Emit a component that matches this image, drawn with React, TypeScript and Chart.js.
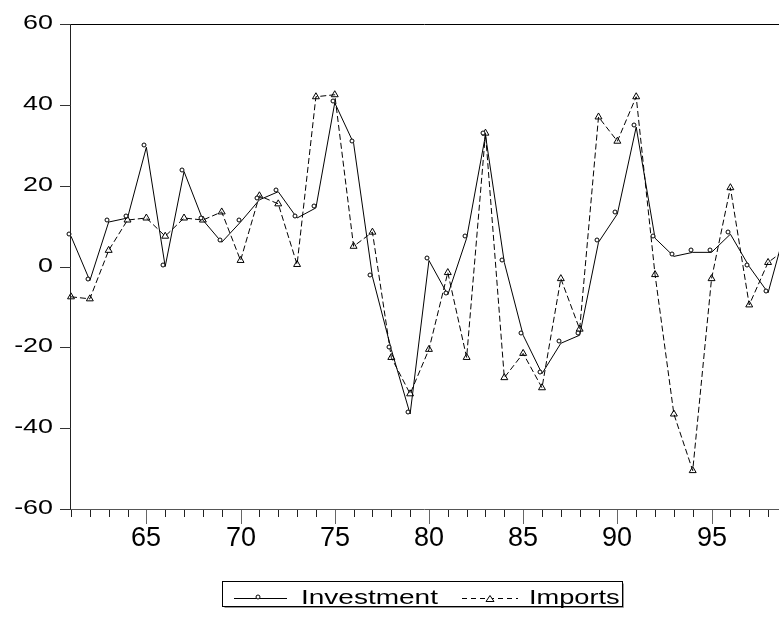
import React, { useEffect, useRef } from 'react';
import { Chart, registerables } from 'chart.js';

Chart.register(...registerables);

// ---- Data ----
const years = [
  61, 62, 63, 64, 65, 66, 67, 68, 69, 70,
  71, 72, 73, 74, 75, 76, 77, 78, 79, 80,
  81, 82, 83, 84, 85, 86, 87, 88, 89, 90,
  91, 92, 93, 94, 95, 96, 97, 98, 99,
];
const investment = [
  7.5, -3.5, 11, 12, 29.5, 0, 23.5, 11.5, 6, 11,
  16.5, 18.5, 12, 14.5, 40.5, 30.5, -2.5, -20.5, -36.5, 1.5,
  -7, 7, 32.5, 1, -17, -26.5, -19, -17, 6, 13,
  34.5, 7, 2.5, 3.5, 3.5, 8, 0, -6.5, 10.5,
];
const imports = [
  -7.5, -8, 4, 11.5, 12, 7.5, 12, 11.5, 13.5, 1.5,
  17.5, 15.5, 0.5, 42, 42.5, 5, 8.5, -22.5, -31.5, -20.5,
  -1.5, -22.5, 33, -27.5, -21.5, -30, -3, -15.5, 37, 31,
  42, -2, -36.5, -50.5, -3, 19.5, -9.5, 1, 4.5,
];
const yTickValues = [-60, -40, -20, 0, 20, 40, 60];
const xMajorEvery = 5;
const seriesNames = ['Investment', 'Imports'];

const X_MIN = 61;
const X_MAX = 98.58;

function drawCircleMarker(ctx: CanvasRenderingContext2D, x: number, y: number) {
  ctx.beginPath();
  ctx.arc(x, y, 2, 0, Math.PI * 2);
  ctx.fillStyle = '#fff';
  ctx.fill();
  ctx.lineWidth = 1;
  ctx.strokeStyle = '#000';
  ctx.stroke();
}

function stretchedText(
  ctx: CanvasRenderingContext2D,
  text: string,
  x: number,
  y: number,
  sx: number,
  align: CanvasTextAlign,
) {
  ctx.save();
  ctx.translate(x, y);
  ctx.scale(sx, 1);
  ctx.textAlign = align;
  ctx.textBaseline = 'alphabetic';
  ctx.fillText(text, 0, 0);
  ctx.restore();
}

export default function App() {
  const ref = useRef<HTMLCanvasElement | null>(null);

  useEffect(() => {
    const canvas = ref.current;
    if (!canvas) return;

    const axesPlugin = {
      id: 'eviewsAxes',
      afterDatasetsDraw(chart: any) {
        const ctx: CanvasRenderingContext2D = chart.ctx;
        const meta = chart.getDatasetMeta(0);
        ctx.save();
        ctx.setLineDash([]);
        for (const el of meta.data) {
          if (el.x > chart.chartArea.right + 3) continue;
          // EViews-style circle marker, drawn slightly up-left of the vertex
          drawCircleMarker(ctx, Math.round(el.x) - 2, Math.round(el.y) - 2);
        }
        ctx.restore();
      },
      afterDraw(chart: any) {
        const { ctx, chartArea } = chart;
        const { left, top, right, bottom } = chartArea;
        const xs = chart.scales.x;
        const ys = chart.scales.y;
        ctx.save();
        ctx.lineWidth = 1;
        ctx.setLineDash([]);

        // frame: top border, left axis, bottom axis
        ctx.strokeStyle = '#000';
        ctx.beginPath();
        ctx.moveTo(left - 1, top + 0.5);
        ctx.lineTo(right, top + 0.5);
        ctx.stroke();
        ctx.strokeStyle = '#222';
        ctx.beginPath();
        ctx.moveTo(left - 0.5, top);
        ctx.lineTo(left - 0.5, bottom + 1);
        ctx.stroke();
        ctx.strokeStyle = '#555';
        ctx.beginPath();
        ctx.moveTo(left - 1, bottom + 0.5);
        ctx.lineTo(right, bottom + 0.5);
        ctx.stroke();

        // y ticks and labels
        ctx.fillStyle = '#000';
        ctx.font = '21px "Liberation Sans", Arial, sans-serif';
        for (const v of yTickValues) {
          const py = Math.round(ys.getPixelForValue(v));
          ctx.strokeStyle = '#333';
          ctx.beginPath();
          ctx.moveTo(left - 11, py + 0.5);
          ctx.lineTo(left, py + 0.5);
          ctx.stroke();
          stretchedText(ctx, String(v), 53, py + 5, 1.28, 'right');
        }

        // x ticks and labels
        ctx.font = '27px "Liberation Sans", Arial, sans-serif';
        for (const yr of years) {
          if (yr > X_MAX) continue;
          const px = Math.round(xs.getPixelForValue(yr));
          const major = yr % xMajorEvery === 0;
          ctx.strokeStyle = major ? '#666' : '#222';
          ctx.beginPath();
          ctx.moveTo(px + 0.5, bottom + 1);
          ctx.lineTo(px + 0.5, bottom + (major ? 15 : 8));
          ctx.stroke();
          if (major) {
            ctx.textAlign = 'center';
            ctx.textBaseline = 'alphabetic';
            ctx.fillText(String(yr), px, 546);
          }
        }

        // legend
        const bx = 222.5, by = 581.5, bw = 400, bh = 25;
        ctx.strokeStyle = '#999';
        ctx.beginPath();
        ctx.moveTo(bx + 2, by + bh + 1);
        ctx.lineTo(bx + bw + 1, by + bh + 1);
        ctx.lineTo(bx + bw + 1, by + 2);
        ctx.stroke();
        ctx.strokeStyle = '#000';
        ctx.strokeRect(bx, by, bw, bh);

        // Investment sample
        ctx.beginPath();
        ctx.moveTo(234, 598.5);
        ctx.lineTo(287, 598.5);
        ctx.stroke();
        drawCircleMarker(ctx, 258, 597);
        ctx.fillStyle = '#000';
        ctx.font = '20px "Liberation Sans", Arial, sans-serif';
        stretchedText(ctx, seriesNames[0], 301, 604, 1.4, 'left');

        // Imports sample
        ctx.strokeStyle = '#000';
        ctx.setLineDash([5, 4]);
        ctx.beginPath();
        ctx.moveTo(462, 598.5);
        ctx.lineTo(518, 598.5);
        ctx.stroke();
        ctx.setLineDash([]);
        ctx.fillStyle = '#fff';
        ctx.beginPath();
        ctx.moveTo(490, 595.5);
        ctx.lineTo(494, 601.5);
        ctx.lineTo(486, 601.5);
        ctx.closePath();
        ctx.fill();
        ctx.stroke();
        ctx.fillStyle = '#000';
        stretchedText(ctx, seriesNames[1], 529, 604, 1.36, 'left');

        ctx.restore();
      },
    };

    const chart = new Chart(canvas, {
      type: 'line',
      data: {
        datasets: [
          {
            label: seriesNames[0],
            data: years.map((x, i) => ({ x, y: investment[i] })),
            borderColor: '#000',
            borderWidth: 1,
            tension: 0,
            fill: false,
            pointRadius: 0,
            clip: false,
          },
          {
            label: seriesNames[1],
            data: years.map((x, i) => ({ x, y: imports[i] })),
            borderColor: '#000',
            borderWidth: 1,
            borderDash: [6, 3],
            tension: 0,
            fill: false,
            pointStyle: 'triangle',
            pointRadius: 4,
            pointBorderWidth: 1,
            pointBorderColor: '#000',
            pointBackgroundColor: 'rgba(255,255,255,0)',
            clip: false,
          },
        ],
      },
      options: {
        animation: false,
        responsive: false,
        devicePixelRatio: 1,
        layout: { autoPadding: false, padding: { top: 24, left: 0, right: 0, bottom: 0 } },
        plugins: {
          legend: { display: false },
          tooltip: { enabled: false },
        },
        scales: {
          x: {
            type: 'linear',
            min: X_MIN,
            max: X_MAX,
            grid: { display: false },
            border: { display: false },
            ticks: { display: false },
            afterFit: (s: any) => {
              s.height = 108;
            },
          },
          y: {
            type: 'linear',
            min: -60,
            max: 60,
            grid: { display: false },
            border: { display: false },
            ticks: { display: false, stepSize: 20 },
            afterFit: (s: any) => {
              s.width = 71;
            },
          },
        },
      },
      plugins: [axesPlugin],
    });

    return () => {
      chart.destroy();
    };
  }, []);

  return (
    <div
      style={{
        position: 'absolute',
        left: 0,
        top: 0,
        width: 779,
        height: 617,
        overflow: 'hidden',
        background: '#fff',
      }}
    >
      <canvas ref={ref} width={779} height={617} style={{ display: 'block' }} />
    </div>
  );
}
